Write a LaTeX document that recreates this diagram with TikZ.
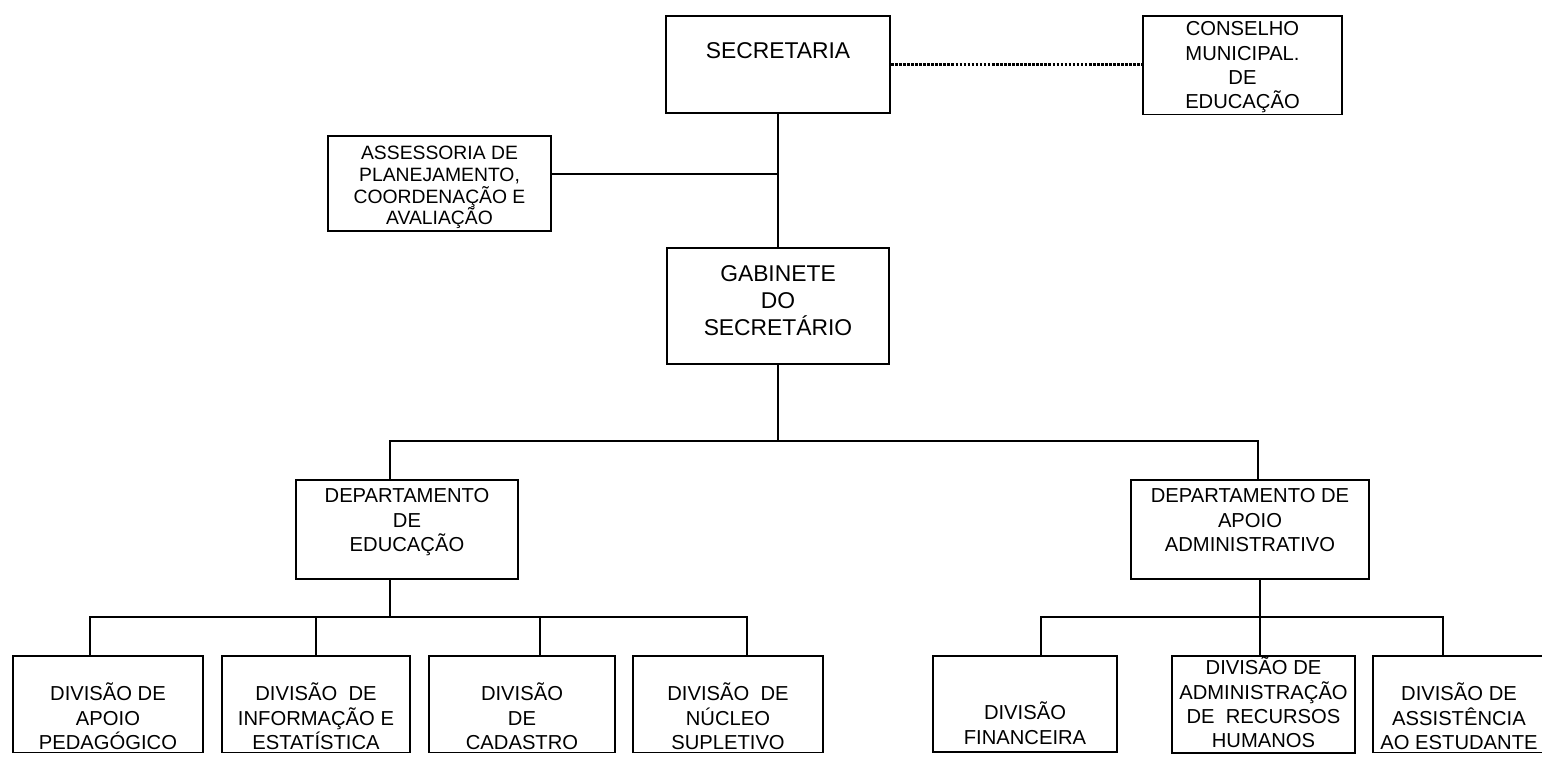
\documentclass[tikz,border=0pt]{standalone}
\usepackage{fontspec}
\setmainfont{Liberation Sans}

\newlength{\px}\setlength{\px}{0.02cm}
\newcommand{\topsp}[1]{\rule{0pt}{#1\px}}
\newcommand{\botsp}[1]{\rule[-#1\px]{0pt}{#1\px}}
\tikzset{headfont/.style={font=\fontsize{13}{15.4}\selectfont},
         smallfont/.style={font=\fontsize{11}{12.3}\selectfont}}

\begin{document}
\begin{tikzpicture}[x=0.02cm, y=-0.02cm]
\useasboundingbox (0,0) rectangle (1542,764);
\begin{scope}[every node/.style={rectangle, draw, line width=1pt, align=center, anchor=north,
              inner ysep=0pt, font=\fontsize{11.5}{13.8}\selectfont}]
  \node[headfont, minimum width=4.48cm] (sec) at (778,15) {\topsp{43}\botsp{54}SECRETARIA};
  \node[minimum width=3.98cm] (cme) at (1242.5,15) {\topsp{20}CONSELHO\\MUNICIPAL.\\DE\\EDUCAÇÃO\botsp{6}};
  \node[smallfont, minimum width=4.46cm] (ass) at (439.5,135) {\topsp{24}ASSESSORIA DE\\PLANEJAMENTO,\\COORDENAÇÃO E\\AVALIAÇÃO\botsp{6}};
  \node[headfont, minimum width=4.44cm] (gab) at (778,247) {\topsp{34}GABINETE\\DO\\SECRETÁRIO\botsp{28}};
  \node[minimum width=4.44cm] (dep1) at (407,479) {\topsp{23}DEPARTAMENTO\\DE\\EDUCAÇÃO\botsp{28}};
  \node[minimum width=4.76cm] (dep2) at (1250,479) {\topsp{23}DEPARTAMENTO DE\\APOIO\\ADMINISTRATIVO\botsp{28}};
  % divisoes do departamento de educacao
  \node[minimum width=3.8cm] (E1) at (108,655) {\topsp{45}DIVISÃO DE\\APOIO\\PEDAGÓGICO\botsp{3}};
  \node[minimum width=3.76cm] (E2) at (316,655) {\topsp{45}DIVISÃO\ \ DE\\INFORMAÇÃO E\\ESTATÍSTICA\botsp{3}};
  \node[minimum width=3.72cm] (E3) at (522,655) {\topsp{45}DIVISÃO\\DE\\CADASTRO\botsp{3}};
  \node[minimum width=3.8cm] (E4) at (728,655) {\topsp{45}DIVISÃO\ \ DE\\NÚCLEO\\SUPLETIVO\botsp{3}};
  % divisoes do apoio administrativo
  \node[minimum width=3.68cm] (F1) at (1025,655) {\topsp{64}DIVISÃO\\FINANCEIRA\botsp{8}};
  \node[minimum width=3.66cm] (F2) at (1263.5,655) {\topsp{19}DIVISÃO DE\\ADMINISTRAÇÃO\\DE\ \ RECURSOS\\HUMANOS\botsp{5}};
  \node[minimum width=3.44cm] (F3) at (1459,655) {\topsp{45}DIVISÃO DE\\ASSISTÊNCIA\\AO ESTUDANTE\botsp{3}};
\end{scope}

\begin{scope}[every edge/.style={draw=black, line width=1pt, line cap=rect}]
  \coordinate (ja) at (778,174);
  \coordinate (bl) at (390,441);
  \coordinate (bc) at (778,441);
  \coordinate (br) at (1258,441);
  \path (sec) edge (gab);
  \path (ass.east |- ja) edge (ja);
  \path (sec.east) edge[line width=1.3pt, line cap=butt, dash pattern=on 1.5pt off 0.8pt] (sec.east -| cme.west);
  \path (gab) edge (bc);
  \path (bl) edge (br);
  \path (bl) edge (bl |- dep1.north);
  \path (br) edge (br |- dep2.north);

  \coordinate (tm) at (390,617);
  \coordinate (t1) at (90,617);
  \coordinate (t2) at (316,617);
  \coordinate (t3) at (540,617);
  \coordinate (t4) at (747,617);
  \path (dep1.south -| tm) edge (tm);
  \path (t1) edge (t4);
  \foreach \i in {1,...,4} {
    \path (t\i) edge (t\i |- E\i.north);
  }

  \coordinate (u1) at (1041,617);
  \coordinate (u2) at (1260,617);
  \coordinate (u3) at (1443,617);
  \path (dep2.south -| u2) edge (u2);
  \path (u1) edge (u3);
  \foreach \i in {1,2,3} {
    \path (u\i) edge (u\i |- F\i.north);
  }
\end{scope}
\end{tikzpicture}
\end{document}
